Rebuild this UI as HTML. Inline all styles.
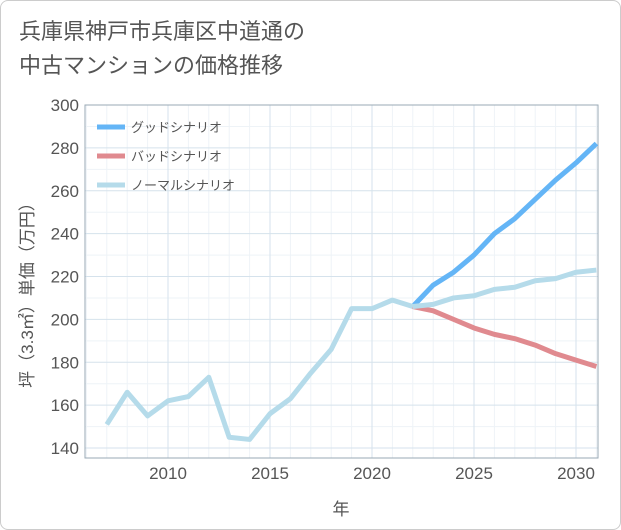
<!DOCTYPE html>
<html><head><meta charset="utf-8">
<style>
body{margin:0;background:#fff;font-family:"Liberation Sans","Noto Sans CJK JP",sans-serif;}
#wrap{position:relative;width:619px;height:528px;border:1px solid #ccc;border-radius:8px;overflow:hidden;background:#fff;}
#title{position:absolute;left:18px;top:14px;font-size:22px;line-height:34px;color:#555;}
svg{position:absolute;left:0;top:0;}
</style></head><body>
<div id="wrap">
<div id="title">兵庫県神戸市兵庫区中道通の<br>中古マンションの価格推移</div>
<svg id="chart" width="621" height="530"></svg>
</div>
<script>
const histYears=[2007,2008,2009,2010,2011,2012,2013,2014,2015,2016,2017,2018,2019,2020,2021,2022];
const histValues=[151,166,155,162,164,173,145,144,156,163,175,186,205,205,209,206];
const futYears=[2022,2023,2024,2025,2026,2027,2028,2029,2030,2031];
const goodValues=[206,216,222,230,240,247,256,265,273,282];
const badValues=[206,204,200,196,193,191,188,184,181,178];
const normalValues=[206,207,210,211,214,215,218,219,222,223];
const yTicks=[140,160,180,200,220,240,260,280,300];
const xTicks=[2010,2015,2020,2025,2030];
const legendLabels=["グッドシナリオ","バッドシナリオ","ノーマルシナリオ"];
const legendColors=["#64b5f6","#e08a8f","#b5dbea"];

const L=84,R=597,T=104,B=457;
const xs=y=>167+(y-2010)*20.4;
const ys=v=>104+(300-v)*343/160;
const svg=document.getElementById('chart');
const NS='http://www.w3.org/2000/svg';
function mk(t,a){const e=document.createElementNS(NS,t);for(const k in a)e.setAttribute(k,a[k]);svg.appendChild(e);return e;}

for(let y=2006;y<=2031;y++){if(y%5===0)continue;const g=mk('line',{x1:xs(y),x2:xs(y),y1:T,y2:B,stroke:'#eef3f7','stroke-width':1});}
for(let v=150;v<300;v+=20){const g=mk('line',{x1:L,x2:R,y1:ys(v),y2:ys(v),stroke:'#eef3f7'});}
yTicks.forEach(v=>{
 const g=mk('line',{x1:L,x2:R,y1:ys(v),y2:ys(v),stroke:'#d5e2ec'});
 
 const t=mk('text',{x:L-6,y:ys(v)+6,'text-anchor':'end','font-size':17,fill:'#555'});t.textContent=v;
 
});
xTicks.forEach(y=>{
 const g=mk('line',{x1:xs(y),x2:xs(y),y1:T,y2:B,stroke:'#d5e2ec'});
 
 const t=mk('text',{x:xs(y),y:478,'text-anchor':'middle','font-size':17,fill:'#555'});t.textContent=y;
 
});
const fr=mk('rect',{x:L,y:T,width:R-L,height:B-T,fill:'none',stroke:'#9aa9b5'});


const clip=mk('clipPath',{id:'c'});const cr=document.createElementNS(NS,'rect');
cr.setAttribute('x',L);cr.setAttribute('y',T);cr.setAttribute('width',R-L);cr.setAttribute('height',B-T);clip.appendChild(cr);
function line(xv,yv,col,name){
 const p=mk('polyline',{points:xv.map((x,i)=>xs(x)+','+ys(yv[i])).join(' '),fill:'none',stroke:col,'stroke-width':5,'stroke-linejoin':'round','clip-path':'url(#c)'});
 
}
line(futYears,goodValues,legendColors[0],'good-scenario-line');
line(futYears,badValues,legendColors[1],'bad-scenario-line');
line(futYears,normalValues,legendColors[2],'normal-scenario-line');
line(histYears,histValues,legendColors[2],'historical-line');

legendLabels.forEach((lab,i)=>{
 const y=126+i*29;
 const l=mk('line',{x1:96,x2:124,y1:y,y2:y,stroke:legendColors[i],'stroke-width':5});
 
 const t=mk('text',{x:130,y:y+5,'font-size':13,fill:'#555'});t.textContent=lab;
 
});
const yt=mk('text',{x:0,y:0,'font-size':17,fill:'#555','text-anchor':'middle',transform:'translate(32,290) rotate(-90)'});
yt.textContent='坪（3.3㎡）単価（万円）';
const xt=mk('text',{x:340,y:514,'font-size':17,fill:'#555','text-anchor':'middle'});
xt.textContent='年';
</script>
</body></html>
